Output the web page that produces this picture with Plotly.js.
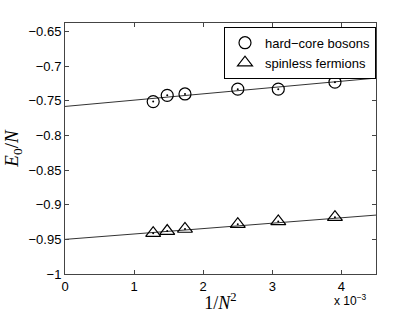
<!DOCTYPE html>
<html><head><meta charset="utf-8">
<script src="https://cdn.plot.ly/plotly-3.0.1.min.js"></script>
<style>html,body{margin:0;padding:0;background:#fff}#chart{width:415px;height:313px}</style>
</head><body><div id="chart"></div>
<script>
// 1/N^2 values (N = 28, 26, 24, 20, 18, 16)
const invN2 = [0.001276, 0.001479, 0.001736, 0.0025, 0.003086, 0.003906];
const bosonsE = [-0.751, -0.742, -0.740, -0.733, -0.733, -0.723];
const fermionsE = [-0.941, -0.938, -0.935, -0.928, -0.924, -0.918];
// linear fits: E = a + b * (1/N^2)
const bosonFit = {a: -0.758, b: 9.1};
const fermionFit = {a: -0.950, b: 7.8};
const fitX = [0, 0.0045];
const xTickVals = [0, 0.001, 0.002, 0.003, 0.004];
const xTickText = ['0', '1', '2', '3', '4'];
const yTickVals = [-1, -0.95, -0.9, -0.85, -0.8, -0.75, -0.7, -0.65];
const yTickText = ['\u22121', '\u22120.95', '\u22120.9', '\u22120.85', '\u22120.8', '\u22120.75', '\u22120.7', '\u22120.65'];

const lineStyle = {color: '#333', width: 1};
const traces = [
  {x: fitX, y: fitX.map(v => bosonFit.a + bosonFit.b * v), mode: 'lines', line: lineStyle, showlegend: false, hoverinfo: 'skip'},
  {x: fitX, y: fitX.map(v => fermionFit.a + fermionFit.b * v), mode: 'lines', line: lineStyle, showlegend: false, hoverinfo: 'skip'},
  {x: invN2, y: bosonsE, mode: 'markers', name: 'hard\u2212core bosons',
   marker: {symbol: 'circle-open', size: 12, color: '#000', line: {width: 1.2, color: '#000'}}},
  {x: invN2, y: fermionsE, mode: 'markers', name: 'spinless fermions',
   marker: {symbol: 'triangle-up-open', size: 13, color: '#000', line: {width: 1.2, color: '#000'}}},
  {x: invN2, y: bosonsE, mode: 'markers', showlegend: false, marker: {size: 2, color: '#000'}},
  {x: invN2, y: fermionsE, mode: 'markers', showlegend: false, marker: {size: 2, color: '#000'}}
];

const axisCommon = {
  showgrid: false, zeroline: false, showline: true, linecolor: '#444', linewidth: 1,
  mirror: 'ticks', ticks: 'inside', ticklen: 4, tickcolor: '#444', tickwidth: 1,
  tickfont: {family: 'Liberation Sans, Arial, sans-serif', size: 13, color: '#000'}
};

const layout = {
  width: 415, height: 313,
  margin: {l: 65, r: 39, t: 23, b: 39},
  paper_bgcolor: '#fff', plot_bgcolor: '#fff',
  showlegend: true,
  xaxis: Object.assign({}, axisCommon, {
    range: [0, 0.0045], tickvals: xTickVals, ticktext: xTickText,
    title: {text: '1/<i>N</i><sup>2</sup>', font: {family: 'Liberation Serif, DejaVu Serif, serif', size: 18, color: '#000'}, standoff: 0}
  }),
  yaxis: Object.assign({}, axisCommon, {
    range: [-1, -0.6375], tickvals: yTickVals, ticktext: yTickText,
    title: {text: '<i>E</i><sub>0</sub>/<i>N</i>', font: {family: 'Liberation Serif, DejaVu Serif, serif', size: 19, color: '#000'}, standoff: 4}
  }),
  legend: {
    x: 1, xanchor: 'right', y: 0.985, yanchor: 'top',
    bgcolor: '#fff', bordercolor: '#000', borderwidth: 1,
    font: {family: 'Liberation Sans, Arial, sans-serif', size: 13, color: '#000'},
    tracegroupgap: 0, itemwidth: 30
  },
  annotations: [{
    xref: 'paper', yref: 'paper', x: 1, y: 0, xanchor: 'right', yanchor: 'top', yshift: -16, xshift: -7,
    text: 'x 10<sup>\u22123</sup>', showarrow: false,
    font: {family: 'Liberation Sans, Arial, sans-serif', size: 12, color: '#000'}
  }]
};

Plotly.newPlot('chart', traces, layout, {displayModeBar: false, staticPlot: true});
</script></body></html>
